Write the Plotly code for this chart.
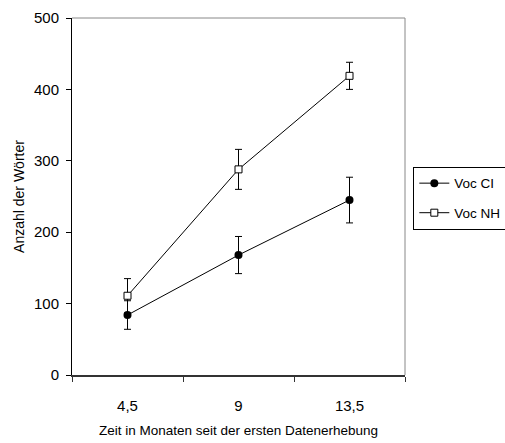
import plotly.graph_objects as go

categories = ["4,5", "9", "13,5"]
voc_ci = [84, 168, 245]
voc_ci_err = [20, 26, 32]
voc_nh = [111, 288, 419]
voc_nh_err = [24, 28, 19]

font = "Liberation Sans, Arial, sans-serif"

fig = go.Figure()
fig.add_trace(go.Scatter(
    x=categories, y=voc_ci, name="Voc CI", mode="lines+markers",
    line=dict(color="black", width=1),
    marker=dict(symbol="circle", size=8, color="black"),
    error_y=dict(type="data", array=voc_ci_err, color="black", thickness=1, width=3.5),
    legendgroup="a",
))
fig.add_trace(go.Scatter(
    x=categories, y=voc_nh, name="Voc NH", mode="lines+markers",
    line=dict(color="black", width=1),
    marker=dict(symbol="square", size=7, color="white", line=dict(color="black", width=1)),
    error_y=dict(type="data", array=voc_nh_err, color="black", thickness=1, width=3.5),
    legendgroup="b",
))

fig.update_layout(
    width=505, height=443,
    margin=dict(l=72, r=100, t=18, b=68, autoexpand=False),
    paper_bgcolor="white", plot_bgcolor="white",
    font=dict(family=font, size=13, color="black"),
    showlegend=True,
    legend=dict(x=1.025, y=0.583, xanchor="left", yanchor="top",
                bordercolor="black", borderwidth=1, bgcolor="white",
                font=dict(size=13.5), tracegroupgap=9, traceorder="grouped",
                itemwidth=30, entrywidth=95),
    xaxis=dict(type="category", tickson="boundaries", ticks="outside", ticklen=5,
               tickcolor="#333", showline=True, linecolor="#333", linewidth=1.5,
               showgrid=False, zeroline=False, range=[-0.5, 2.5],
               tickfont=dict(size=15), ticklabelstandoff=16,
               title=dict(text="Zeit in Monaten seit der ersten Datenerhebung",
                          font=dict(size=13.5), standoff=13)),
    yaxis=dict(range=[0, 500], tickvals=[0, 100, 200, 300, 400, 500],
               ticks="outside", ticklen=5, tickcolor="black",
               showline=True, linecolor="black", linewidth=1,
               showgrid=False, zeroline=False, tickfont=dict(size=15),
               ticklabelstandoff=4,
               title=dict(text="Anzahl der Wörter", font=dict(size=14), standoff=6)),
    shapes=[
        dict(type="line", xref="paper", yref="paper", x0=0, x1=1, y0=1, y1=1,
             line=dict(color="#888", width=1)),
        dict(type="line", xref="paper", yref="paper", x0=1, x1=1, y0=0, y1=1,
             line=dict(color="#888", width=1)),
    ],
)

fig.write_html("out.html", config={"displayModeBar": False},
               post_script="document.body.style.margin='0';")
